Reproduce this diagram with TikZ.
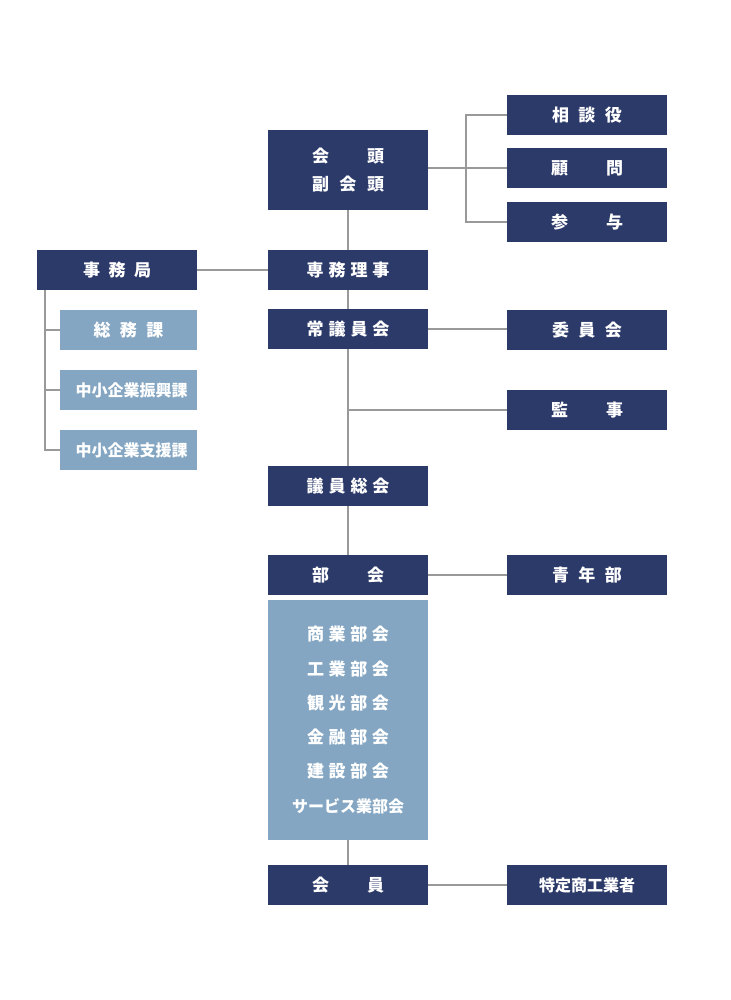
\documentclass[tikz,border=0pt]{standalone}
\usepackage{fontspec}
\setmainfont{Noto Sans CJK JP}
\usetikzlibrary{calc}

\definecolor{navy}{HTML}{2C3A6A}
\definecolor{paleblue}{HTML}{84A6C2}
\definecolor{linegray}{HTML}{999999}

% spaced out label
\newcommand{\spread}[2]{\makebox[#1][s]{#2}}

\begin{document}
\begin{tikzpicture}[x=1pt,y=-1pt,
  darkbox/.style={fill=navy,text=white,minimum width=160pt,minimum height=40pt,inner sep=0pt,font=\fontsize{17}{20}\selectfont\bfseries},
  lightbox/.style={darkbox,fill=paleblue,minimum width=137pt},
  small/.style={font=\fontsize{16}{20}\selectfont\bfseries},
  link/.style={draw=linegray,line width=2pt}]

\useasboundingbox (0,0) rectangle (730,1000);

% Johtoryhma
\node[darkbox,minimum height=80pt,align=center,font=\fontsize{17}{28}\selectfont\bfseries] (kaito) at (348,170) {\spread{72pt}{会\hfil 頭}\\\spread{72pt}{副\hfil 会\hfil 頭}};
\node[darkbox] (sodan) at (587,115) {\spread{70pt}{相\hfil 談\hfil 役}};
\node[darkbox] (komon) at (587,168) {\spread{72pt}{顧\hfil 問}};
\node[darkbox] (sanyo) at (587,222) {\spread{72pt}{参\hfil 与}};

% Jimukyoku
\node[darkbox] (jimu) at (117,270) {\spread{68pt}{事\hfil 務\hfil 局}};
\node[darkbox] (senmu) at (348,270) {\spread{83pt}{専\hfil 務\hfil 理\hfil 事}};
\node[lightbox] (somu) at (128.5,330) {\spread{70pt}{総\hfil 務\hfil 課}};
\node[lightbox,small,text depth=0pt] (shinko) at (128.5,390) {\hspace{6pt}中小企業振興課};
\node[lightbox,small,text depth=0pt] (shien) at (128.5,450) {\hspace{6pt}中小企業支援課};

% Gikai
\node[darkbox] (jogi) at (348,329) {\spread{83pt}{常\hfil 議\hfil 員\hfil 会}};
\node[darkbox] (iinkai) at (587,330) {\spread{70pt}{委\hfil 員\hfil 会}};
\node[darkbox] (kanji) at (587,410) {\spread{72pt}{監\hfil 事}};
\node[darkbox] (giin) at (348,486) {\spread{83pt}{議\hfil 員\hfil 総\hfil 会}};

% Bukai
\node[darkbox] (bukai) at (348,575) {\spread{72pt}{部\hfil 会}};
\node[darkbox] (seinen) at (587,575) {\spread{70pt}{青\hfil 年\hfil 部}};
\node[lightbox,minimum width=160pt,minimum height=240pt,align=center,font=\fontsize{17}{34.3}\selectfont\bfseries] (bulist) at (348,720) {\spread{82pt}{商\hfil 業\hfil 部\hfil 会}\\\spread{82pt}{工\hfil 業\hfil 部\hfil 会}\\\spread{82pt}{観\hfil 光\hfil 部\hfil 会}\\\spread{82pt}{金\hfil 融\hfil 部\hfil 会}\\\spread{82pt}{建\hfil 設\hfil 部\hfil 会}\\{\fontsize{16}{20}\selectfont サービス業部会}};

% Kaiin
\node[darkbox] (kaiin) at (348,885) {\spread{72pt}{会\hfil 員}};
\node[darkbox,small] (tokutei) at (587,885) {特定商工業者};

% Yhteydet
\draw[link] (kaito) -- (senmu);
\draw[link] (senmu) -- (jogi);
\draw[link] (jogi) -- (giin);
\draw[link] (giin) -- (bukai);
\draw[link] (bulist) -- (kaiin);
\draw[link] (jimu) -- (senmu);
\draw[link] (jogi.east) -- (iinkai.west |- jogi.east);
\coordinate (kanjiJoin) at (jogi.south |- kanji.west);
\draw[link] (kanjiJoin) -- (kanji.west);
\draw[link] (bukai) -- (seinen);
\draw[link] (kaiin) -- (tokutei);

\draw[link] (kaito.east |- komon.west) -- (komon.west);
\draw[link] (sodan.west) -- ++(-41,0) |- (sanyo.west);

\coordinate (jimuLeg) at ([xshift=8pt]jimu.south west);
\draw[link] (jimuLeg) |- (shien.west);
\foreach \v in {somu, shinko}
  \draw[link] (\v.west) -- (\v.west -| jimuLeg);

\end{tikzpicture}
\end{document}
